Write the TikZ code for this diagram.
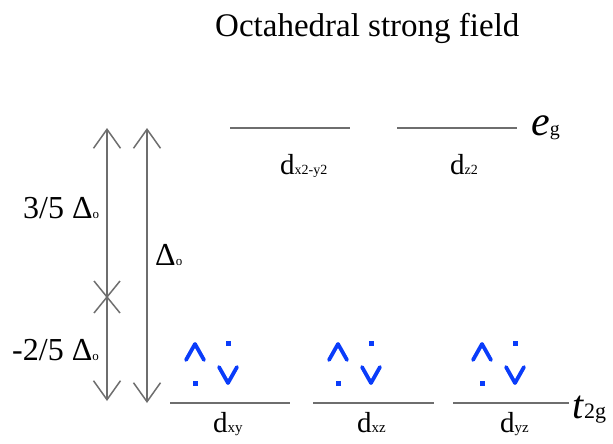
\documentclass[tikz,border=0pt]{standalone}
\usepackage{fontspec}
\setmainfont{Liberation Serif}
\usetikzlibrary{arrows.meta,calc}
\definecolor{lvl}{RGB}{110,110,110}
\definecolor{eblue}{RGB}{10,60,250}
\newcommand\fs[1]{\fontsize{#1}{#1}\selectfont}
\begin{document}
\begin{tikzpicture}[x=1pt,y=-1pt,
  level/.style={draw=lvl, line width=2pt},
  gaparrow/.style={draw=lvl, line width=1.5pt,
    {Straight Barb[length=19pt,width=27pt]}-{Straight Barb[length=19pt,width=27pt]}},
  ehead/.style={draw=eblue, line width=3.8pt, line cap=round, line join=round},
  edot/.style={fill=eblue},
  lab/.style={inner sep=0pt, anchor=base west},
]
\useasboundingbox (0,0) rectangle (613,444);

% title
\node[lab, font=\fs{33}] (title) at (215,37) {Octahedral strong field};

% energy gap arrows
\coordinate (a1t) at (107,128); \coordinate (a1b) at (107,401);
\coordinate (a2t) at (147,128); \coordinate (a2b) at (147,403);
\draw[gaparrow] (a1t) -- (a1b);
\draw[gaparrow] (a2t) -- (a2b);
\coordinate (xc) at (107,297);
\draw[draw=lvl, line width=1.5pt] ($(xc)+(-13,-16)$) -- ($(xc)+(13,16)$)
      ($(xc)+(-13,16)$) -- ($(xc)+(13,-16)$);

\node[lab, font=\fs{32}] (l35) at (23,218) {3/5 Δ{\fs{13}o}};
\node[lab, font=\fs{32}] (l25) at (12,360) {-2/5 Δ{\fs{13}o}};
\node[lab, font=\fs{32}] (ld) at (155,265) {Δ{\fs{13}o}};

% eg levels
\coordinate (e1a) at (230,128); \coordinate (e1b) at (350,128);
\coordinate (e2a) at (397,128); \coordinate (e2b) at (517,128);
\draw[level] (e1a) -- (e1b);
\draw[level] (e2a) -- (e2b);
\node[lab, font=\fs{29}] (dx2) at (280,174) {d{\fs{14}x2-y2}};
\node[lab, font=\fs{29}] (dz2) at (450,174) {d{\fs{14}z2}};
\node[lab, font=\fs{42}] (eg) at (531,135) {\textit{e}{\fs{20}g}};

% t2g levels
\coordinate (t1a) at (170,403); \coordinate (t1b) at (290,403);
\coordinate (t2a) at (313,403); \coordinate (t2b) at (434,403);
\coordinate (t3a) at (453,403); \coordinate (t3b) at (569,403);
\draw[level] (t1a) -- (t1b);
\draw[level] (t2a) -- (t2b);
\draw[level] (t3a) -- (t3b);
\node[lab, font=\fs{29}] (dxy) at (213,432) {d{\fs{15}xy}};
\node[lab, font=\fs{29}] (dxz) at (357,432) {d{\fs{15}xz}};
\node[lab, font=\fs{29}] (dyz) at (500,432) {d{\fs{15}yz}};
\node[lab, font=\fs{40}] (t2g) at (572,418) {\textit{t}{\fs{22}2g}};

% electron pairs
\foreach \o in {0,143,287}{
  \draw[ehead] (\o+186,360) -- (\o+195,344) -- (\o+204,360);
  \fill[edot] (\o+192.5,380.5) rectangle ++(5,5);
  \fill[edot] (\o+225.5,340.5) rectangle ++(5,5);
  \draw[ehead] (\o+219,367) -- (\o+228,383) -- (\o+237,367);
}
\end{tikzpicture}
\end{document}
